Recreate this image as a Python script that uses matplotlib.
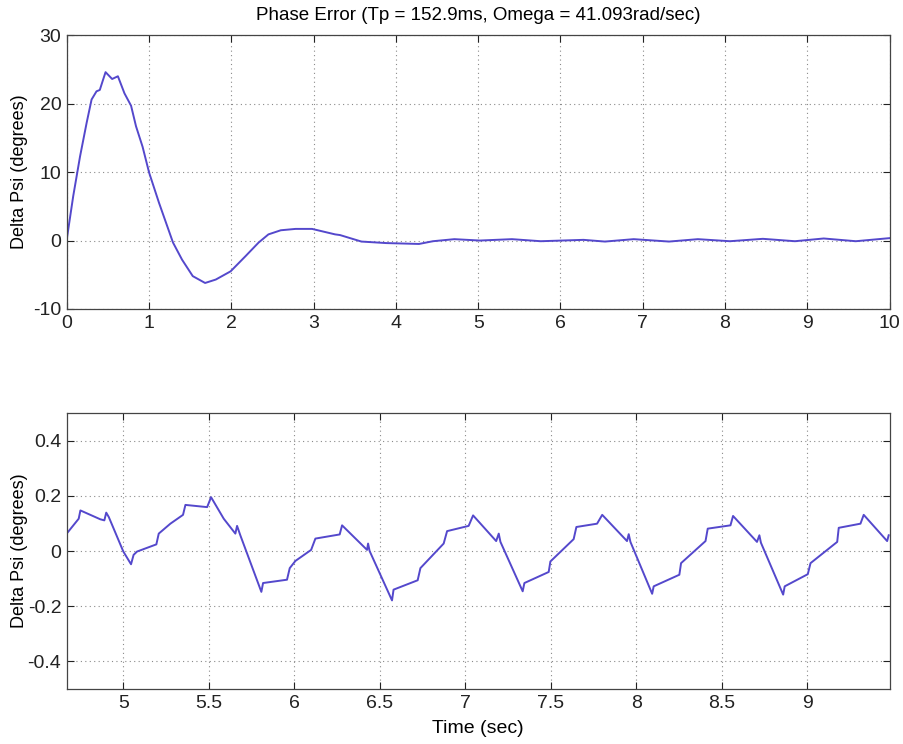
import matplotlib
matplotlib.use("Agg")
import matplotlib.pyplot as plt

plt.rcParams["font.family"] = ["Liberation Sans", "DejaVu Sans"]
plt.rcParams["axes.unicode_minus"] = False

# 위 그래프: 전체 응답 (0~10초)
t_full = [0.0, 0.077, 0.16, 0.24, 0.30, 0.36, 0.40, 0.44, 0.47, 0.55,
          0.62, 0.70, 0.78, 0.84, 0.92, 1.00, 1.12, 1.29, 1.40, 1.53,
          1.68, 1.81, 1.99, 2.17, 2.33, 2.45, 2.60, 2.78, 2.98, 3.26,
          3.32, 3.58, 3.88, 4.28, 4.45, 4.71, 5.02, 5.41, 5.76, 6.28,
          6.54, 6.89, 7.32, 7.67, 8.06, 8.46, 8.85, 9.20, 9.59, 10.0]
psi_full = [0.3, 6.5, 12.3, 17.2, 20.6, 21.8, 22.0, 23.5, 24.6, 23.6,
            24.0, 21.5, 19.7, 16.7, 13.7, 9.9, 5.5, -0.3, -2.8, -5.2,
            -6.2, -5.7, -4.5, -2.3, -0.3, 0.9, 1.5, 1.7, 1.7, 0.9,
            0.8, -0.15, -0.37, -0.5, -0.1, 0.2, 0.0, 0.2, -0.1, 0.1,
            -0.15, 0.2, -0.15, 0.2, -0.1, 0.25, -0.1, 0.3, -0.1, 0.35]

# 아래 그래프: 정상상태 확대 (4.67~9.48초)
t_zoom = [4.674, 4.739, 4.749, 4.865, 4.889, 4.900, 4.915, 5.000, 5.045, 5.060,
          5.080, 5.193, 5.207, 5.275, 5.349, 5.363, 5.490, 5.513, 5.587, 5.655,
          5.665, 5.684, 5.807, 5.817, 5.957, 5.973, 6.006, 6.098, 6.123, 6.265,
          6.279, 6.425, 6.431, 6.440, 6.571, 6.580, 6.721, 6.737, 6.873, 6.893,
          7.019, 7.045, 7.180, 7.195, 7.205, 7.335, 7.345, 7.487, 7.497, 7.633,
          7.649, 7.770, 7.800, 7.945, 7.955, 7.965, 8.092, 8.101, 8.251, 8.261,
          8.404, 8.417, 8.550, 8.565, 8.705, 8.719, 8.728, 8.858, 8.867, 9.002,
          9.018, 9.174, 9.183, 9.310, 9.329, 9.466, 9.475]
psi_zoom = [0.067, 0.117, 0.147, 0.115, 0.111, 0.139, 0.123, -0.002, -0.048, -0.014,
            -0.002, 0.024, 0.063, 0.099, 0.131, 0.167, 0.159, 0.195, 0.117, 0.063,
            0.091, 0.057, -0.148, -0.116, -0.104, -0.062, -0.036, 0.004, 0.045, 0.060,
            0.093, 0.004, 0.027, 0.000, -0.179, -0.140, -0.106, -0.062, 0.027, 0.072,
            0.091, 0.129, 0.036, 0.063, 0.033, -0.146, -0.116, -0.076, -0.038, 0.043,
            0.087, 0.099, 0.131, 0.036, 0.061, 0.033, -0.155, -0.128, -0.086, -0.044,
            0.036, 0.081, 0.093, 0.127, 0.033, 0.057, 0.030, -0.158, -0.128, -0.084,
            -0.044, 0.033, 0.084, 0.099, 0.131, 0.036, 0.057]

line_color = "#5448cc"
grid_kw = dict(color="#8a8a8a", linestyle=(0, (1, 3)), linewidth=0.8)


def style_axes(ax):
    ax.tick_params(direction="in", top=True, right=True, labelsize=14,
                   length=5, width=0.8, colors="#222222", pad=4)
    for sp in ax.spines.values():
        sp.set_color("#444444")
        sp.set_linewidth(0.9)
    ax.grid(True, **grid_kw)
    ax.yaxis.set_label_coords(-0.047, 0.5)


fig = plt.figure(figsize=(9.04, 7.44), dpi=100)

# 1. 전체 위상오차
ax1 = fig.add_axes([0.074, 0.5847, 0.910, 0.368])
ax1.plot(t_full, psi_full, color=line_color, linewidth=1.4)
ax1.set_xlim(0, 10)
ax1.set_ylim(-10, 30)
ax1.set_xticks(range(0, 11))
ax1.set_yticks([-10, 0, 10, 20, 30])
ax1.set_title("Phase Error (Tp = 152.9ms, Omega = 41.093rad/sec)",
              fontsize=13.5, pad=11)
ax1.set_ylabel("Delta Psi (degrees)", fontsize=13)
style_axes(ax1)

# 2. 정상상태 확대
ax2 = fig.add_axes([0.074, 0.0739, 0.910, 0.371])
ax2.plot(t_zoom, psi_zoom, color=line_color, linewidth=1.4)
ax2.set_xlim(4.67, 9.48)
ax2.set_ylim(-0.5, 0.5)
ax2.set_xticks([5, 5.5, 6, 6.5, 7, 7.5, 8, 8.5, 9])
ax2.set_xticklabels(["5", "5.5", "6", "6.5", "7", "7.5", "8", "8.5", "9"])
ax2.set_yticks([-0.4, -0.2, 0, 0.2, 0.4])
ax2.set_yticklabels(["-0.4", "-0.2", "0", "0.2", "0.4"])
ax2.set_xlabel("Time (sec)", fontsize=14, labelpad=6)
ax2.set_ylabel("Delta Psi (degrees)", fontsize=13)
style_axes(ax2)

fig.savefig("out.png", dpi=100)
plt.close()
